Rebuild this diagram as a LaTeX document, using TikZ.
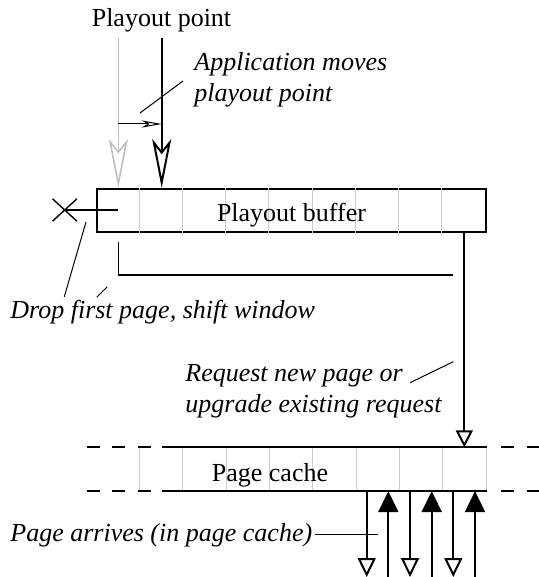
\documentclass[tikz,border=0pt]{standalone}
\usepackage{fontspec}
\setmainfont{Liberation Serif}
\usetikzlibrary{arrows.meta,shapes.misc}

\newcommand{\figsize}{\fontsize{13}{15.5}\selectfont}

\tikzset{
  txt/.style={inner sep=0pt, font=\figsize},
  note/.style={inner sep=0pt, anchor=base west, align=left, font=\figsize\itshape},
  leader/.style={line width=0.5pt},
  cellsep/.style={draw=black!20, line width=0.5pt},
  oldpoint/.style={draw=black!25, line width=0.8pt, -{Stealth[open, length=24.5pt, width=9.5pt, inset=6pt]}},
  newpoint/.style={line width=1pt, -{Stealth[open, length=24.5pt, width=9.5pt, inset=6pt]}},
  movearrow/.style={line width=0.5pt, -{Stealth[open, length=10pt, width=3.6pt, inset=3pt]}},
  request/.style={line width=1pt, -{Triangle[open, length=8.5pt, width=8.5pt]}},
  fetch/.style={line width=1pt, -{Triangle[open, length=9.5pt, width=9pt]}},
  arrive/.style={line width=1pt, -{Triangle[length=10.5pt, width=10pt]}},
  rim/.style={line width=1pt},
  rimdash/.style={line width=1pt, dash pattern=on 6.5pt off 6.3pt}
}

\begin{document}
\begin{tikzpicture}[x=0.5pt, y=-0.5pt]
  \useasboundingbox (0,0) rectangle (539,577);

  % playout point
  \node[txt, anchor=base] (pplabel) at (161.5,26.7) {Playout point};
  \coordinate (oldpt) at (118.3,38);
  \coordinate (newpt) at (161.7,38);

  % playout buffer, 9 pages
  \node[draw, line width=1pt, minimum width=194.7pt, minimum height=21.5pt, inner sep=0pt] (buf) at (291.5,210.5) {};
  \foreach \i in {1,...,8}
    \draw[cellsep] ([xshift=\i*21.63pt]buf.north west) -- ([xshift=\i*21.63pt]buf.south west);
  \node[txt, anchor=base] (buflabel) at (291.5,221.7) {Playout buffer};

  \draw[oldpoint] (oldpt) -- (oldpt |- buf.north);
  \draw[newpoint] (newpt) -- (newpt |- buf.north);
  \coordinate (shiftfrom) at (118.3,124);
  \draw[movearrow] (shiftfrom) -- (shiftfrom -| newpt);

  % base of a two-line note is its last line
  \node[note] (appnote) at (194,102) {Application moves\\playout point};
  \draw[leader] (140,113) -- (183,81);

  % drop first page
  \node[draw, cross out, line width=0.7pt, minimum width=11.5pt, minimum height=10.5pt, inner sep=0pt] (drop) at (64.7,210) {};
  \draw[rim] (drop.center) -- (drop -| oldpt);
  \coordinate (winstart) at (118.3,242);
  \coordinate (winend) at (453,275);
  \draw[line width=0.6pt] (winstart) |- (winend);
  \node[note] (dropnote) at (10,318) {Drop first page, shift window};
  \draw[leader] (86,222) -- (64.3,296.7);
  \draw[leader] (96.7,297.3) -- (107.3,286.7);

  % page cache
  \node[minimum width=173.35pt, minimum height=21.5pt, inner sep=0pt] (cache) at (313.35,469.2) {};
  \foreach \i in {0,...,8}
    \draw[cellsep] ([xshift=\i*21.67pt]cache.north west) -- ([xshift=\i*21.67pt]cache.south west);
  \foreach \a in {north,south} {
    \draw[rim] ([xshift=11.35pt]cache.\a\space west) -- (cache.\a\space east);
    \draw[rimdash] (cache.\a\space west -| 86.7,0) -- ([xshift=5.5pt]cache.\a\space west);
    \draw[rimdash] ([xshift=7pt]cache.\a\space east) -- (cache.\a\space east -| 545,0);
  }
  \node[txt, anchor=base] (cachelabel) at (270,481.7) {Page cache};

  % request
  \coordinate (reqx) at (464.3,0);
  \draw[request] (buf.south -| reqx) -- (cache.north -| reqx);
  \node[note] (reqnote) at (185,412) {Request new page or\\upgrade existing request};
  \draw[leader] (410,382.7) -- (453.3,361.7);

  % pages arriving
  \foreach \x in {366.7,410,453.3}
    \draw[fetch] (cache.south -| \x,0) -- (\x,577);
  \foreach \x in {388.3,431.7,475}
    \draw[arrive] (\x,578) -- (cache.south -| \x,0);
  \node[note] (arrnote) at (10,541.7) {Page arrives (in page cache)};
  \draw[leader] (315,534) -- (378,534);
\end{tikzpicture}
\end{document}
